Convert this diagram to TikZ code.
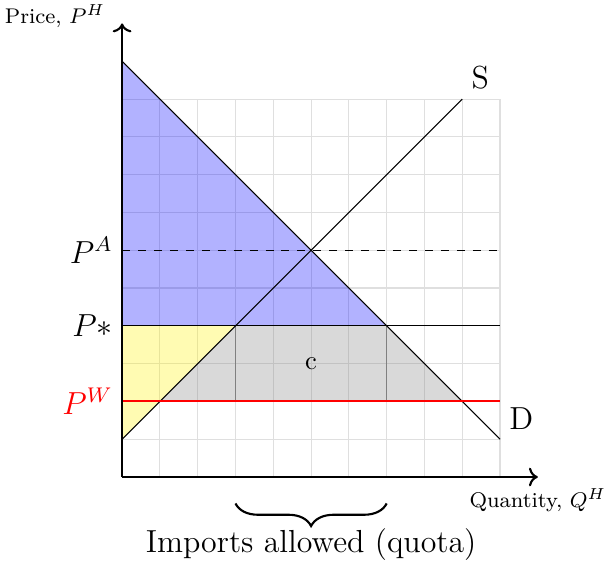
\documentclass[tikz,border=0pt]{standalone}
\usepackage{amsmath}
\usepackage{tikz}
\usepackage{xcolor}
\usetikzlibrary{arrows.meta, positioning, calc, decorations.pathreplacing}
\tikzset{
	axis/.style     ={->, thick},
	curve/.style    ={thin, black},
	pline/.style    ={thin, black},
	surplus/.style  ={fill opacity=0.3},
	plabel/.style   ={left, font=\large},
	% brace under the axis
	quotabrace/.style={decorate, decoration={brace, mirror, amplitude=8.5pt}, thick},
}

\begin{document}
\begin{tikzpicture}[x=0.5cm, y=0.5cm]
	\useasboundingbox (-3.23,-2.2) rectangle (12.75,12.62);
	\draw[gray!25, step=1] (0,0) grid (10,10);
	% key points
	\coordinate (dtop) at (0,11);
	\coordinate (dend) at (10,1);
	\coordinate (sbot) at (0,1);
	\coordinate (send) at (9,10);
	\coordinate (qs) at (3,4);
	\coordinate (qd) at (7,4);
	\coordinate (ws) at (1,2);
	\coordinate (wd) at (9,2);
	% surplus areas
	\fill[blue, surplus] (dtop) -- (qd) -- (0,4) -- cycle;
	\fill[yellow, surplus] (0,4) -- (qs) -- (sbot) -- cycle;
	\fill[gray, surplus] (qs) -- (qd) -- (wd) -- (ws) -- cycle;
	\draw[gray] (qs) -- (3,2);
	\draw[gray] (qd) -- (7,2);
	\node (c) at (5,3) {c};
	% curves and price lines
	\draw[curve] (dtop) -- (dend) node[above right, font=\large] (D) {D};
	\draw[curve] (sbot) -- (send) node[above right, font=\large] (S) {S};
	\draw[pline, dashed] (0,6) node[plabel] (PA) {$P^A$} -- (10,6);
	\draw[pline] (0,4) node[plabel] (Pstar) {$P*$} -- (10,4);
	\draw[draw=red, line width=0.8pt] (0,2) -- (10,2);
	\node[plabel, text=red] (PW) at (0,2) {$P^W$};
	% axes
	\draw[axis] (0,0) -- (0,12);
	\draw[axis] (0,0) -- (11,0);
	\node[left, font=\footnotesize] (ylab) at (-0.2,12.2) {Price, $P^H$};
	\node[font=\footnotesize] (xlab) at (11,-0.62) {Quantity, $Q^H$};
	\draw[quotabrace] (3,-0.7) -- (7,-0.7);
	\node[font=\large] (imp) at (5,-1.8) {Imports allowed (quota)};
\end{tikzpicture}
\end{document}
